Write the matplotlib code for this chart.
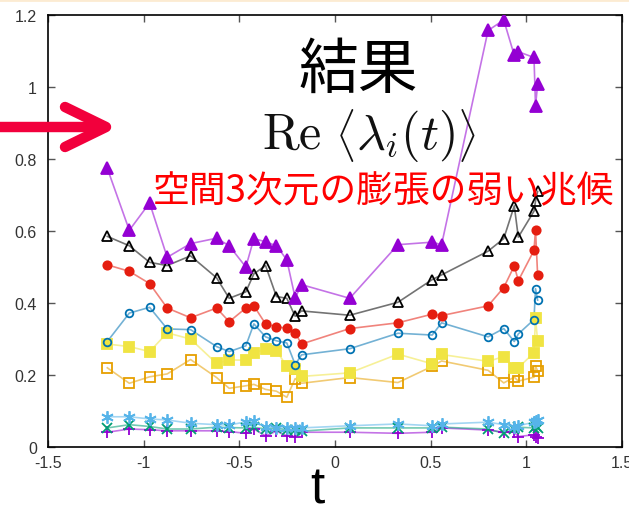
import matplotlib
matplotlib.use("Agg")
import matplotlib.pyplot as plt
from matplotlib.lines import Line2D

plt.rcParams['font.family'] = ['Liberation Sans', 'DejaVu Sans']
plt.rcParams['mathtext.fontset'] = 'cm'

# shared time points
t = [-1.19, -1.075, -0.969, -0.877, -0.755, -0.619, -0.553, -0.466, -0.424, -0.363,
     -0.306, -0.252, -0.208, -0.175, 0.077, 0.329, 0.508, 0.557, 0.800, 0.882,
     0.937, 0.958, 1.040, 1.048, 1.059]

lam1 = [0.041, 0.050, 0.048, 0.045, 0.045, 0.045, 0.043, 0.038, 0.050, 0.031,
        0.044, 0.031, 0.029, 0.041, 0.041, 0.038, 0.041, 0.053, 0.047, 0.041,
        0.041, 0.029, 0.034, 0.029, 0.025]
lam2 = [0.053, 0.062, 0.057, 0.050, 0.050, 0.055, 0.054, 0.053, 0.055, 0.050,
        0.053, 0.047, 0.047, 0.044, 0.053, 0.053, 0.053, 0.055, 0.050, 0.038,
        0.050, 0.055, 0.053, 0.059, 0.053]
lam3 = [0.084, 0.084, 0.078, 0.075, 0.066, 0.062, 0.061, 0.070, 0.071, 0.055,
        0.053, 0.053, 0.053, 0.053, 0.059, 0.064, 0.059, 0.064, 0.069, 0.062,
        0.055, 0.059, 0.069, 0.073, 0.075]
lam4 = [0.220, 0.177, 0.195, 0.203, 0.243, 0.193, 0.163, 0.170, 0.174, 0.160,
        0.155, 0.138, 0.190, 0.177, 0.193, 0.179, 0.224, 0.239, 0.213, 0.178,
        0.194, 0.183, 0.194, 0.225, 0.211]
lam5 = [0.286, 0.279, 0.265, 0.317, 0.300, 0.232, 0.242, 0.241, 0.261, 0.272,
        0.268, 0.224, 0.218, 0.196, 0.206, 0.258, 0.231, 0.257, 0.238, 0.251,
        0.220, 0.220, 0.262, 0.358, 0.295]
lam6 = [0.293, 0.372, 0.388, 0.328, 0.326, 0.279, 0.265, 0.281, 0.342, 0.306,
        0.295, 0.289, 0.229, 0.256, 0.273, 0.316, 0.311, 0.345, 0.306, 0.329,
        0.293, 0.314, 0.354, 0.440, 0.408]
lam7 = [0.506, 0.488, 0.454, 0.386, 0.359, 0.386, 0.348, 0.386, 0.392, 0.342,
        0.334, 0.330, 0.317, 0.286, 0.329, 0.345, 0.369, 0.365, 0.392, 0.443,
        0.503, 0.462, 0.546, 0.603, 0.478]
lam8 = [0.585, 0.559, 0.513, 0.504, 0.531, 0.470, 0.413, 0.431, 0.481, 0.504,
        0.418, 0.413, 0.363, 0.378, 0.366, 0.402, 0.465, 0.478, 0.544, 0.579,
        0.670, 0.583, 0.655, 0.683, 0.710]
lam9 = [0.774, 0.602, 0.678, 0.527, 0.565, 0.580, 0.559, 0.500, 0.579, 0.570,
        0.559, 0.520, 0.414, 0.451, 0.413, 0.562, 0.569, 0.562, 1.157, 1.186,
        1.088, 1.098, 1.082, 0.948, 1.007]

series = [lam1, lam2, lam3, lam4, lam5, lam6, lam7, lam8, lam9]
colors = ['#9400D3', '#009E73', '#56B4E9', '#E69F00', '#F0E442',
          '#0072B2', '#E51E10', '#000000', '#9400D3']
# gnuplot-like point types: marker, filled?, size
markers = [('+', True, 9), ('x', True, 7), ((6, 2, 0), True, 9), ('s', False, 7),
           ('s', True, 7), ('o', False, 5.5), ('o', True, 6), ('^', False, 7),
           ('^', True, 8)]

xticks = [-1.5, -1, -0.5, 0, 0.5, 1, 1.5]
xticklabels = ['-1.5', '-1', '-0.5', '0', '0.5', '1', '1.5']
yticks = [0, 0.2, 0.4, 0.6, 0.8, 1.0, 1.2]
yticklabels = ['0', '0.2', '0.4', '0.6', '0.8', '1', '1.2']

W, H = 629, 506
fig = plt.figure(figsize=(W / 100, H / 100), dpi=100)
ax = fig.add_axes([48 / W, 58 / H, 574 / W, 432 / H])

for y, c, (m, filled, ms) in zip(series, colors, markers):
    ax.plot(t, y, color=c, lw=1.2, alpha=0.55, zorder=2)
    ax.plot(t, y, linestyle='none', marker=m, ms=ms, color=c, mew=1.3,
            markerfacecolor=c if filled else 'none', zorder=3)

ax.set_xlim(-1.5, 1.5)
ax.set_ylim(0, 1.2)
ax.set_xticks(xticks)
ax.set_xticklabels(xticklabels)
ax.set_yticks(yticks)
ax.set_yticklabels(yticklabels)
ax.tick_params(direction='in', length=5, width=1, color='#555555',
               top=True, right=True, labelsize=11.5, labelcolor='#333333')
ax.tick_params(axis='y', pad=8)
ax.tick_params(axis='x', pad=6)
for s in ax.spines.values():
    s.set_linewidth(1.2)

# overlaid slide text
cjk = ['Noto Sans CJK JP', 'DejaVu Sans']
fig.text(358 / W, 1 - 71 / H, '結果', family=cjk, fontsize=43,
         ha='center', va='center', color='black')
fig.text(369 / W, 1 - 135 / H, r'$\mathrm{Re}\ \left\langle\lambda_i(t)\right\rangle$',
         fontsize=36, ha='center', va='center', color='#111111')
fig.text(383 / W, 1 - 192 / H, '空間3次元の膨張の弱い兆候', family=cjk,
         fontsize=26.5, ha='center', va='center', color='#FF0000')
fig.text(317 / W, 1 - 466 / H, 't', fontsize=37, ha='center', va='top')

# red arrow on the left
arrow_col = '#F2003C'
fig.add_artist(Line2D([0 / W, 100 / W], [1 - 128 / H, 1 - 128 / H],
                      transform=fig.transFigure, color=arrow_col, lw=7.5,
                      solid_capstyle='round'))
fig.add_artist(Line2D([65 / W, 106 / W, 65 / W],
                      [1 - 108 / H, 1 - 128 / H, 1 - 148 / H],
                      transform=fig.transFigure, color=arrow_col, lw=7.5,
                      solid_capstyle='round', solid_joinstyle='round'))

# thin band at the top of the slide
fig.add_artist(Line2D([0, 1], [1 - 1 / H, 1 - 1 / H], transform=fig.transFigure,
                      color='#FCEBD2', lw=2))

fig.savefig('out.png', dpi=100)
